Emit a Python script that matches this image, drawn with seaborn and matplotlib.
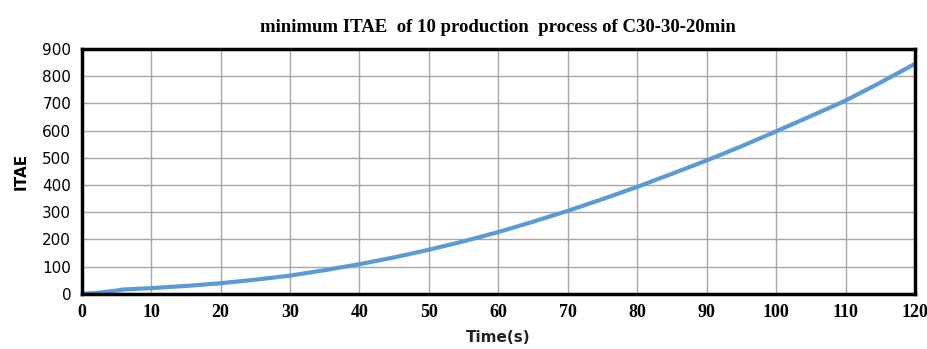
import matplotlib
matplotlib.use("Agg")
import matplotlib.pyplot as plt
import seaborn as sns
import pandas as pd

# values
time_s = [0, 2, 5, 6, 10, 15, 20, 25, 30, 35, 40, 45, 50, 55, 60, 65, 70, 75, 80,
          85, 90, 95, 100, 105, 110, 115, 120]
itae = [0, 3, 12, 16, 21, 29, 39, 52, 67, 87, 109, 134, 162, 193, 227, 265, 305,
        348, 393, 441, 490, 542, 597, 653, 710, 776, 845]

df = pd.DataFrame({"Time(s)": time_s, "ITAE": itae})

sns.set_style("white")
fig, ax = plt.subplots(figsize=(9.28, 3.49), dpi=100)
fig.subplots_adjust(left=0.088, right=0.986, top=0.86, bottom=0.158)

sns.lineplot(data=df, x="Time(s)", y="ITAE", ax=ax, color="#5b9bd5", linewidth=3)

ax.set_xlim(0, 120)
ax.set_ylim(0, 900)
ax.set_xticks(range(0, 121, 10))
ax.set_yticks(range(0, 901, 100))
ax.grid(True, color="#a6a6a6", linewidth=1)
for s in ax.spines.values():
    s.set_color("black")
    s.set_linewidth(2.5)
ax.tick_params(axis="both", direction="out", length=4, width=2, color="black",
               labelcolor="black")
for lbl in ax.get_xticklabels():
    lbl.set_family("Liberation Serif")
    lbl.set_fontweight("bold")
    lbl.set_fontsize(13)
for lbl in ax.get_yticklabels():
    lbl.set_family("DejaVu Sans")
    lbl.set_fontsize(11)

ax.set_xlabel("Time(s)", fontsize=11, fontweight="bold", family="DejaVu Sans",
              color="#222222", labelpad=6)
ax.set_ylabel("ITAE", fontsize=11, fontweight="bold", family="DejaVu Sans",
              color="black", labelpad=10)
ax.set_title("minimum ITAE  of 10 production  process of C30-30-20min",
             fontsize=13.5, fontweight="bold", family="Liberation Serif",
             color="black", pad=12)

fig.savefig("out.png", dpi=100)
